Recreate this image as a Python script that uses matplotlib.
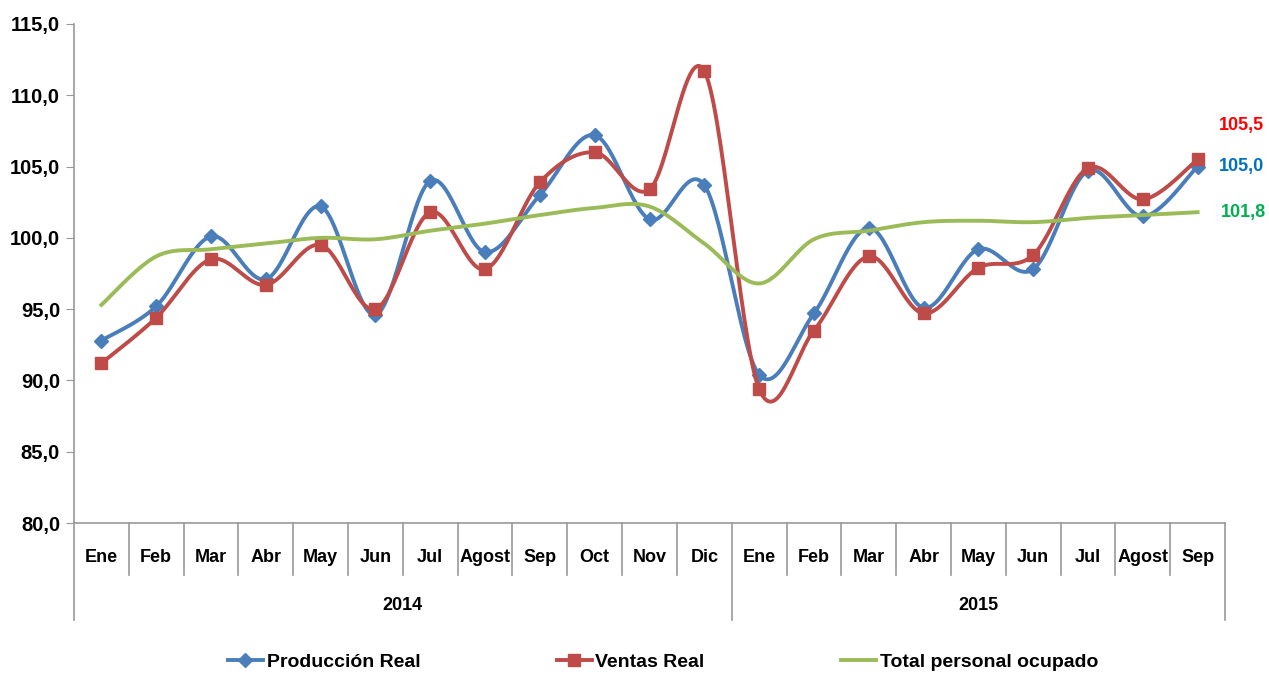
import matplotlib
matplotlib.use("Agg")
import matplotlib.pyplot as plt
import matplotlib.transforms as mtransforms
import numpy as np

plt.rcParams["font.family"] = ["Liberation Sans", "DejaVu Sans"]
plt.rcParams["font.weight"] = "bold"

months = ["Ene", "Feb", "Mar", "Abr", "May", "Jun", "Jul", "Agost", "Sep", "Oct", "Nov", "Dic",
          "Ene", "Feb", "Mar", "Abr", "May", "Jun", "Jul", "Agost", "Sep"]
years = ["2014", "2015"]
year_sizes = [12, 9]

produccion = [92.8, 95.2, 100.1, 97.1, 102.2, 94.6, 104.0, 99.0, 103.0, 107.2, 101.3, 103.7,
              90.4, 94.7, 100.7, 95.1, 99.2, 97.8, 104.7, 101.5, 105.0]
ventas = [91.2, 94.4, 98.5, 96.7, 99.5, 95.0, 101.8, 97.8, 103.9, 106.0, 103.4, 111.7,
          89.4, 93.5, 98.7, 94.7, 97.9, 98.8, 104.9, 102.7, 105.5]
personal = [95.3, 98.7, 99.2, 99.6, 100.0, 99.9, 100.5, 101.0, 101.6, 102.1, 102.2, 99.6,
            96.8, 99.9, 100.5, 101.1, 101.2, 101.1, 101.4, 101.6, 101.8]

BLUE = "#4a7ebb"
RED = "#be4b48"
GREEN = "#9bbb59"
N = 30  # samples per segment


def smooth(values):
    """Excel-style smoothed line: cubic Bezier with Catmull-Rom control points."""
    y = np.asarray(values, dtype=float)
    x = np.arange(len(y), dtype=float)
    p = np.column_stack([x, y])
    ext = np.vstack([p[0], p, p[-1]])
    t = np.linspace(0, 1, N, endpoint=False)[:, None]
    pts = []
    for i in range(len(p) - 1):
        p0, p3 = ext[i + 1], ext[i + 2]
        c1 = p0 + (ext[i + 2] - ext[i]) / 6
        c2 = p3 - (ext[i + 3] - ext[i + 1]) / 6
        seg = ((1 - t) ** 3) * p0 + 3 * ((1 - t) ** 2) * t * c1 + 3 * (1 - t) * t ** 2 * c2 + t ** 3 * p3
        pts.append(seg)
    pts.append(p[-1][None, :])
    pts = np.vstack(pts)
    return pts[:, 0], pts[:, 1]


fig = plt.figure(figsize=(12.69, 6.75), dpi=100)
ax = fig.add_axes([74 / 1269, 1 - 523 / 675, (1225 - 74) / 1269, (523 - 24) / 675])

marks = list(range(0, len(months) * N, N))
sx, sy = smooth(produccion)
ax.plot(sx, sy, color=BLUE, lw=2.8, marker="D", ms=7, markevery=marks, label="Producción Real")
sx, sy = smooth(ventas)
ax.plot(sx, sy, color=RED, lw=2.8, marker="s", ms=9, markevery=marks, label="Ventas Real")
sx, sy = smooth(personal)
ax.plot(sx, sy, color=GREEN, lw=2.8, label="Total personal ocupado")

ax.set_xlim(-0.5, len(months) - 0.5)
ax.set_ylim(80, 115)
yt = np.arange(80, 116, 5)
ax.set_yticks(yt)
ax.set_yticklabels([f"{v:.1f}".replace(".", ",") for v in yt], fontsize=14.5, fontweight="bold")
ax.tick_params(axis="y", length=6, color="#999999", pad=4)
ax.set_xticks(range(len(months)))
ax.set_xticklabels([])
ax.tick_params(axis="x", length=0)

for s in ["top", "right"]:
    ax.spines[s].set_visible(False)
for s in ["left", "bottom"]:
    ax.spines[s].set_color("#999999")
    ax.spines[s].set_linewidth(1.2)

# two level category axis
trans = mtransforms.blended_transform_factory(ax.transData, ax.transAxes)
short = -(575 - 523) / 499
long = -(620 - 523) / 499
bounds = np.cumsum([0] + year_sizes)
for b in range(len(months) + 1):
    bottom = long if b in bounds else short
    ax.plot([b - 0.5, b - 0.5], [0, bottom], transform=trans, color="#999999", lw=1.2, clip_on=False)
for i, m in enumerate(months):
    ax.text(i, -(557 - 523) / 499, m, transform=trans, ha="center", va="center",
            fontsize=13, fontweight="bold")
for k, yr in enumerate(years):
    centre = (bounds[k] + bounds[k + 1] - 1) / 2
    ax.text(centre, -(606 - 523) / 499, yr, transform=trans, ha="center", va="center",
            fontsize=13, fontweight="bold")

# last values
last = len(months) - 1
ax.text(last + 0.38, 107.9, f"{ventas[-1]:.1f}".replace(".", ","), color="#ff0000",
        fontsize=13, fontweight="bold", va="center", clip_on=False)
ax.text(last + 0.38, 105.0, f"{produccion[-1]:.1f}".replace(".", ","), color="#0070c0",
        fontsize=13, fontweight="bold", va="center", clip_on=False)
ax.text(last + 0.42, 101.8, f"{personal[-1]:.1f}".replace(".", ","), color="#00b050",
        fontsize=13, fontweight="bold", va="center", clip_on=False)

fig.legend(loc="center", bbox_to_anchor=(663 / 1269, 1 - 662 / 675), ncol=3, frameon=False,
           prop={"size": 14, "weight": "bold"}, columnspacing=7.0, handlelength=1.8,
           handletextpad=0.2)

fig.savefig("out.png", dpi=100)
